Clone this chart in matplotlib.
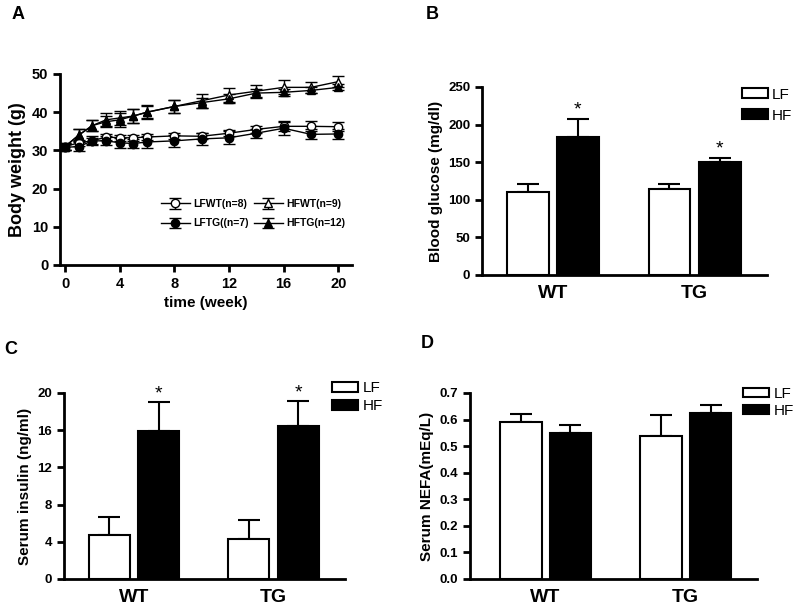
# body weight time course + serum/blood measures, LF vs HF diet, WT vs TG mice

import matplotlib
matplotlib.use('AGG')
import matplotlib.pyplot as plt
import numpy as np

plt.rcParams['font.family'] = ['Liberation Sans', 'DejaVu Sans']
plt.rcParams['font.weight'] = 'bold'
plt.rcParams['axes.labelweight'] = 'bold'

#%% data

weeks = [0, 1, 2, 3, 4, 5, 6, 8, 10, 12, 14, 16, 18, 20]
lfwt = [31.0, 32.0, 32.5, 33.5, 33.3, 33.3, 33.5, 33.8, 33.7, 34.5, 35.5, 36.3, 36.3, 36.2]
lfwt_err = [0.8, 0.8, 0.8, 0.8, 0.8, 0.8, 0.8, 0.8, 0.8, 0.8, 1.0, 1.2, 1.3, 1.2]
hfwt = [31.0, 34.0, 36.5, 38.0, 38.5, 39.0, 40.0, 41.5, 43.0, 44.5, 45.5, 46.5, 46.5, 48.0]
hfwt_err = [1.0, 1.5, 1.5, 1.7, 1.8, 1.8, 1.8, 1.8, 1.8, 1.8, 1.7, 1.8, 1.5, 1.5]
lftg = [30.8, 31.0, 32.5, 32.5, 32.0, 31.8, 32.2, 32.5, 33.0, 33.3, 34.5, 35.8, 34.2, 34.3]
lftg_err = [0.8, 1.2, 1.2, 1.2, 1.3, 1.3, 1.5, 1.5, 1.5, 1.7, 1.2, 1.8, 1.3, 1.2]
hftg = [31.0, 34.0, 36.5, 37.5, 38.0, 39.0, 40.0, 41.5, 42.5, 43.5, 45.0, 45.2, 45.7, 46.5]
hftg_err = [1.0, 1.5, 1.5, 1.5, 1.8, 1.8, 1.5, 1.7, 1.3, 1.2, 1.0, 1.0, 0.8, 0.8]

groups = ['WT', 'TG']
glucose_lf = [111, 115]
glucose_lf_err = [10, 6]
glucose_hf = [184, 150]
glucose_hf_err = [24, 6]

insulin_lf = [4.7, 4.35]
insulin_lf_err = [2.0, 2.0]
insulin_hf = [15.9, 16.4]
insulin_hf_err = [3.1, 2.7]

nefa_lf = [0.591, 0.537]
nefa_lf_err = [0.031, 0.079]
nefa_hf = [0.551, 0.626]
nefa_hf_err = [0.029, 0.030]

#%% helpers

def style_axes(ax):
    ax.spines['top'].set_visible(False)
    ax.spines['right'].set_visible(False)
    ax.spines['left'].set_linewidth(2)
    ax.spines['bottom'].set_linewidth(2)
    ax.tick_params(direction='out', length=5, width=2, labelsize=9.5)


def bar_panel(ax, lf, lf_err, hf, hf_err, ylab, yticks, ylim, stars, legpos,
              xlim=(-0.5, 1.51), tickfmt=None, legspace=0.3):
    x = np.arange(len(groups))
    w = 0.295
    off = 0.177
    ax.bar(x - off, lf, w, color='white', edgecolor='k', linewidth=1.5, label='LF', zorder=2)
    ax.bar(x + off, hf, w, color='k', edgecolor='k', linewidth=1.5, label='HF', zorder=2)
    ax.errorbar(x - off, lf, yerr=[np.zeros(len(lf)), lf_err], fmt='none', ecolor='k',
                elinewidth=1.5, capsize=8, capthick=1.5, zorder=1)
    ax.errorbar(x + off, hf, yerr=[np.zeros(len(hf)), hf_err], fmt='none', ecolor='k',
                elinewidth=1.5, capsize=8, capthick=1.5, zorder=1)
    for i in range(len(groups)):
        if stars[i]:
            ax.text(x[i] + off, hf[i] + hf_err[i], '*', ha='center', va='bottom',
                    fontsize=14, fontweight='normal')
    ax.set_xticks(x)
    ax.set_xticklabels(groups, fontsize=14)
    ax.set_xlim(xlim)
    ax.set_ylim(ylim)
    ax.set_yticks(yticks)
    if tickfmt is not None:
        ax.set_yticklabels([tickfmt % v for v in yticks])
    ax.set_ylabel(ylab, fontsize=11)
    style_axes(ax)
    ax.tick_params(axis='x', length=0, pad=7, labelsize=14)
    ax.legend(loc='upper left', bbox_to_anchor=legpos, bbox_transform=fig.transFigure,
              frameon=False, handlelength=1.7, handleheight=0.6, borderpad=0,
              borderaxespad=0, handletextpad=0.3, labelspacing=legspace,
              prop={'weight': 'normal', 'size': 11})

#%% make plot

fig = plt.figure(figsize=(8, 6.13), dpi=100)

# A: body weight
ax1 = fig.add_axes([0.075, 0.5677, 0.365, 0.3116])
ebkw = dict(elinewidth=1, capsize=4, capthick=1, color='k', linewidth=1, markersize=6)
ax1.errorbar(weeks, lfwt, yerr=lfwt_err, marker='o', mfc='white', mec='k', label='LFWT(n=8)', **ebkw)
ax1.errorbar(weeks, lftg, yerr=lftg_err, marker='o', mfc='k', mec='k', label='LFTG((n=7)', **ebkw)
ax1.errorbar(weeks, hfwt, yerr=hfwt_err, marker='^', mfc='white', mec='k', label='HFWT(n=9)', **ebkw)
ax1.errorbar(weeks, hftg, yerr=hftg_err, marker='^', mfc='k', mec='k', label='HFTG(n=12)', **ebkw)
ax1.set_xlim(-0.37, 21.0)
ax1.set_ylim(0, 50)
ax1.set_xticks([0, 4, 8, 12, 16, 20])
ax1.set_yticks([0, 10, 20, 30, 40, 50])
ax1.set_xlabel('time (week)', fontsize=11)
ax1.set_ylabel('Body weight (g)', fontsize=13)
style_axes(ax1)
ax1.tick_params(labelsize=10.5)
ax1.legend(loc='lower right', bbox_to_anchor=(0.99, 0.17), ncol=2, frameon=False,
           fontsize=7.5, handlelength=2.8, columnspacing=0.5, handletextpad=0.3,
           labelspacing=0.9, borderaxespad=0)

# B: glucose
ax2 = fig.add_axes([0.6025, 0.5514, 0.356, 0.3067])
bar_panel(ax2, glucose_lf, glucose_lf_err, glucose_hf, glucose_hf_err,
          'Blood glucose (mg/dl)', [0, 50, 100, 150, 200, 250], (0, 250), [True, True],
          (0.927, 0.857), legspace=0.45)

# C: insulin
ax3 = fig.add_axes([0.08, 0.0555, 0.351, 0.3034])
bar_panel(ax3, insulin_lf, insulin_lf_err, insulin_hf, insulin_hf_err,
          'Serum insulin (ng/ml)', [0, 4, 8, 12, 16, 20], (0, 20), [True, True],
          (0.415, 0.378), legspace=0.25)

# D: NEFA
ax4 = fig.add_axes([0.5875, 0.0555, 0.359, 0.3034])
bar_panel(ax4, nefa_lf, nefa_lf_err, nefa_hf, nefa_hf_err,
          'Serum NEFA(mEq/L)', [0, 0.1, 0.2, 0.3, 0.4, 0.5, 0.6, 0.7], (0, 0.7),
          [False, False], (0.929, 0.369), xlim=(-0.54, 1.51), tickfmt='%.1f', legspace=0.2)

# panel letters
for lab, x, y in [('A', 0.014, 0.99), ('B', 0.532, 0.99), ('C', 0.005, 0.443), ('D', 0.526, 0.453)]:
    fig.text(x, y, lab, fontsize=13, fontweight='bold', va='top')

fig.savefig('out.png', dpi=100)
plt.close()
